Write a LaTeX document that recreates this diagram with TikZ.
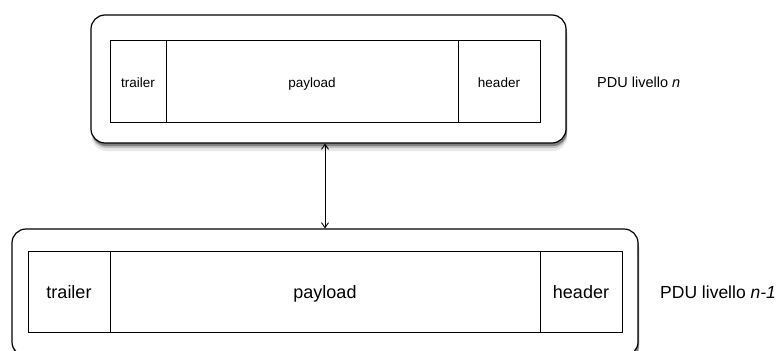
\documentclass[tikz,border=0pt]{standalone}
\usepackage{fontspec}
\setmainfont{Liberation Sans}
\usetikzlibrary{arrows.meta,shadows}

\begin{document}
\begin{tikzpicture}[x=1pt,y=-1pt,
    pdu/.style={draw,line width=1.2pt,rounded corners=14pt,fill=white,
        drop shadow={shadow xshift=1pt,shadow yshift=-8pt,fill=black!60,opacity=0.15},
        drop shadow={shadow xshift=1pt,shadow yshift=-5pt,fill=black!60,opacity=0.3},
        drop shadow={shadow xshift=1pt,shadow yshift=-3pt,fill=black!70,opacity=0.55}},
    cell/.style={draw,line width=0.9pt,fill=white,inner sep=0pt,outer sep=0pt,text depth=0pt},
    small/.style={font=\fontsize{13.5}{16}\selectfont,text height=12pt},
    big/.style={font=\fontsize{18}{21}\selectfont,text height=13.6pt},
    tip/.style={{Straight Barb[length=5pt,width=7pt]}-{Straight Barb[length=5pt,width=7pt]}}]
            \clip (0,0) rectangle (780,351);
            % livello n
            \draw (328.5,79) node[pdu,minimum width=475pt,minimum height=128pt] (pduN) {};
            \draw (138,81) node[cell,small,minimum width=56pt,minimum height=82pt] (trailerN) {trailer};
            \draw (312,81) node[cell,small,minimum width=292pt,minimum height=82pt] (payloadN) {payload};
            \draw (499,81) node[cell,small,minimum width=82pt,minimum height=82pt] (headerN) {header};
            \draw (597,82) node[anchor=west,inner sep=0pt,font=\fontsize{14.5}{17}\selectfont] (labelN) {PDU livello \textit{n}};
            % livello n-1
            \draw (325,292.5) node[pdu,minimum width=626pt,minimum height=127pt] (pduM) {};
            \draw (69,291.5) node[cell,big,minimum width=82pt,minimum height=81pt] (trailerM) {trailer};
            \draw (325,291.5) node[cell,big,minimum width=430pt,minimum height=81pt] (payloadM) {payload};
            \draw (581,291.5) node[cell,big,minimum width=82pt,minimum height=81pt] (headerM) {header};
            \draw (660,292) node[anchor=west,inner sep=0pt,font=\fontsize{17.5}{20}\selectfont] (labelM) {PDU livello \textit{n-1}};
            \path[tip,line width=0.9pt]
            (pduM.north |- pduN.south) edge node {} (pduM.north);
        \end{tikzpicture}
\end{document}
